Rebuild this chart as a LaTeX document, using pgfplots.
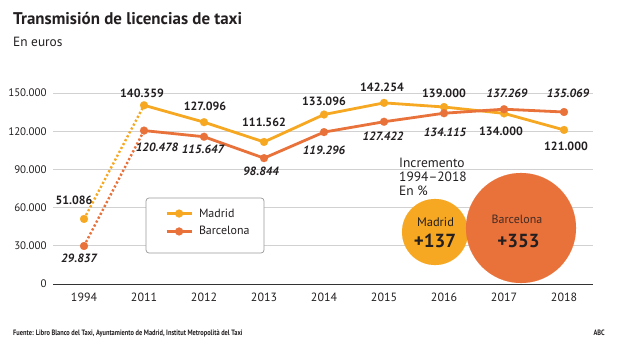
\documentclass[border=0pt]{standalone}
\usepackage{pgfplots}
\pgfplotsset{compat=1.18}
\usepackage{pgfplotstable}
\usepackage{fontspec}
\setmainfont{PT Sans}
\newfontfamily\narrowfont[FakeStretch=0.82]{PT Sans}
\definecolor{madrid}{RGB}{246,168,34}
\definecolor{barca}{RGB}{233,113,58}
\definecolor{txt}{RGB}{35,31,32}

\pgfplotstableread{
x y dx dy
0 51086 -10 19
1 140359 -2 12
2 127096 1 15.5
3 111562 0 20
4 133096 0 13
5 142254 -2 15.5
6 139000 0 13.5
7 134000 -3 -18
8 121000 2 -16
}\madridtab

\pgfplotstableread{
x y dx dy
0 29837 -5 -12.5
1 120478 13 -17
2 115647 -1 -13
3 98844 -3 -13.5
4 119296 0 -18
5 127422 -1 -15
6 134115 1 -19
7 137269 3 15.5
8 135069 4 18.5
}\barcatab

\begin{document}
\begin{tikzpicture}
\useasboundingbox (0bp,0bp) rectangle (621bp,-350bp);
\begin{scope}[x=1bp,y=-1bp]
\node[anchor=base west, inner sep=0, font=\fontsize{17}{20}\selectfont\bfseries, text=txt] at (13,24) {Transmisión de licencias de taxi};
\node[anchor=base west, inner sep=0, font=\fontsize{13.4}{15}\selectfont, text=txt] at (13,46) {En euros};
\node[anchor=base west, inner sep=0, font=\narrowfont\fontsize{7.8}{9}\selectfont\bfseries, text=txt] at (13,335) {Fuente: Libro Blanco del Taxi, Ayuntamiento de Madrid, Institut Metropolità del Taxi};
\node[anchor=base east, inner sep=0, font=\narrowfont\fontsize{7.8}{9}\selectfont\bfseries, text=txt] at (605,335) {ABC};
\end{scope}

\begin{axis}[
  at={(53bp,-284bp)}, anchor=south west,
  scale only axis, width=540bp, height=191bp,
  xmin=-0.517, xmax=8.483, ymin=0, ymax=150000,
  clip=false,
  axis line style={draw=none},
  major tick length=0pt,
  xtick={0,...,8},
  xticklabels={1994,2011,2012,2013,2014,2015,2016,2017,2018},
  x tick label style={font=\fontsize{12}{14}\selectfont, text=txt, yshift=-5bp},
  ytick={30000,60000,90000,120000,150000},
  scaled y ticks=false,
  yticklabel={\pgfmathprintnumber[fixed, precision=0, 1000 sep={.}, assume math mode=true]{\tick}},
  y tick label style={font=\fontsize{11}{12}\selectfont, text=txt, xshift=-3bp},
  extra y ticks={0},
  extra y tick labels={0},
  extra y tick style={grid style={draw=black!80, line width=1bp}},
  ymajorgrids,
  grid style={draw=black!18, line width=0.8bp},
  legend style={at={(0.2019,0.322)}, anchor=west, draw=none, fill=none,
    font=\fontsize{12}{14}\selectfont, text=txt, row sep=6bp, column sep=5bp,
    nodes={inner sep=1bp}},
  legend cell align=left,
  legend image code/.code={\draw[mark repeat=2,mark phase=2,#1] plot coordinates {(0bp,0bp) (12.5bp,0bp) (25bp,0bp)};},
]
% legend box
\draw[black!40, line width=0.7bp, rounded corners=3bp, fill=white] (axis cs:1.0333,67539) rectangle (axis cs:3.0,24346);

\addlegendimage{madrid, line width=2.8bp, mark=*, mark size=4bp, mark options={draw=madrid, fill=madrid, line width=0.1bp}}
\addlegendentry{Madrid}
\addlegendimage{barca, line width=2.8bp, mark=*, mark size=4bp, mark options={draw=barca, fill=barca, line width=0.1bp}}
\addlegendentry{Barcelona}

% Madrid
\addplot[forget plot, madrid, line width=2.4bp, dash pattern=on 2.2bp off 2.2bp, restrict x to domain=0:1] table[x=x,y=y]{\madridtab};
\addplot[forget plot, madrid, line width=2.8bp, line join=round, restrict x to domain=1:8] table[x=x,y=y]{\madridtab};
\addplot[forget plot, madrid, only marks, mark=*, mark size=4bp, mark options={draw=madrid, fill=madrid, line width=0.1bp},
  point meta=\thisrow{y},
  visualization depends on={\thisrow{dx}\as\dx},
  visualization depends on={\thisrow{dy}\as\dy},
  nodes near coords={\pgfmathprintnumber[fixed, precision=0, 1000 sep={.}, assume math mode=true]{\pgfplotspointmeta}},
  every node near coord/.append style={anchor=center, xshift=\dx bp, yshift=\dy bp, inner sep=0pt, text=txt, font=\fontsize{12}{12}\selectfont\bfseries},
] table[x=x,y=y]{\madridtab};

% Barcelona
\addplot[forget plot, barca, line width=2.4bp, dash pattern=on 2.2bp off 2.2bp, restrict x to domain=0:1] table[x=x,y=y]{\barcatab};
\addplot[forget plot, barca, line width=2.8bp, line join=round, restrict x to domain=1:8] table[x=x,y=y]{\barcatab};
\addplot[forget plot, barca, only marks, mark=*, mark size=4bp, mark options={draw=barca, fill=barca, line width=0.1bp},
  point meta=\thisrow{y},
  visualization depends on={\thisrow{dx}\as\dx},
  visualization depends on={\thisrow{dy}\as\dy},
  nodes near coords={\pgfmathprintnumber[fixed, precision=0, 1000 sep={.}, assume math mode=true]{\pgfplotspointmeta}},
  every node near coord/.append style={anchor=center, xshift=\dx bp, yshift=\dy bp, inner sep=0pt, text=txt, font=\fontsize{12}{12}\selectfont\bfseries\itshape},
] table[x=x,y=y]{\barcatab};

% bubbles (increase 1994-2018, %)
\addplot[forget plot, madrid, only marks, mark=*, mark size=33bp, mark options={draw=madrid, fill=madrid, line width=0.1bp}] coordinates {(5.85,40838)};
\addplot[forget plot, barca, only marks, mark=*, mark size=55bp, mark options={draw=barca, fill=barca, line width=0.1bp}] coordinates {(7.283,43979)};
\end{axis}

\begin{scope}[x=1bp,y=-1bp]
\node[anchor=base west, inner sep=0, font=\fontsize{13.5}{14}\selectfont, text=txt] at (399,167) {Incremento};
\node[anchor=base west, inner sep=0, font=\fontsize{13.5}{14}\selectfont, text=txt] at (399,181) {1994–2018};
\node[anchor=base west, inner sep=0, font=\fontsize{13.5}{14}\selectfont, text=txt] at (399,195) {En \%};
\node[anchor=center, inner sep=0, font=\fontsize{12.5}{14}\selectfont, text=txt] at (435.5,222) {Madrid};
\node[anchor=center, inner sep=0, font=\fontsize{19}{20}\selectfont\bfseries, text=txt] at (435,240.5) {+137};
\node[anchor=center, inner sep=0, font=\fontsize{12}{14}\selectfont, text=txt!85!barca] at (517,219.5) {Barcelona};
\node[anchor=center, inner sep=0, font=\fontsize{19}{20}\selectfont\bfseries, text=txt] at (518.5,241.5) {+353};
\end{scope}
\end{tikzpicture}
\end{document}
